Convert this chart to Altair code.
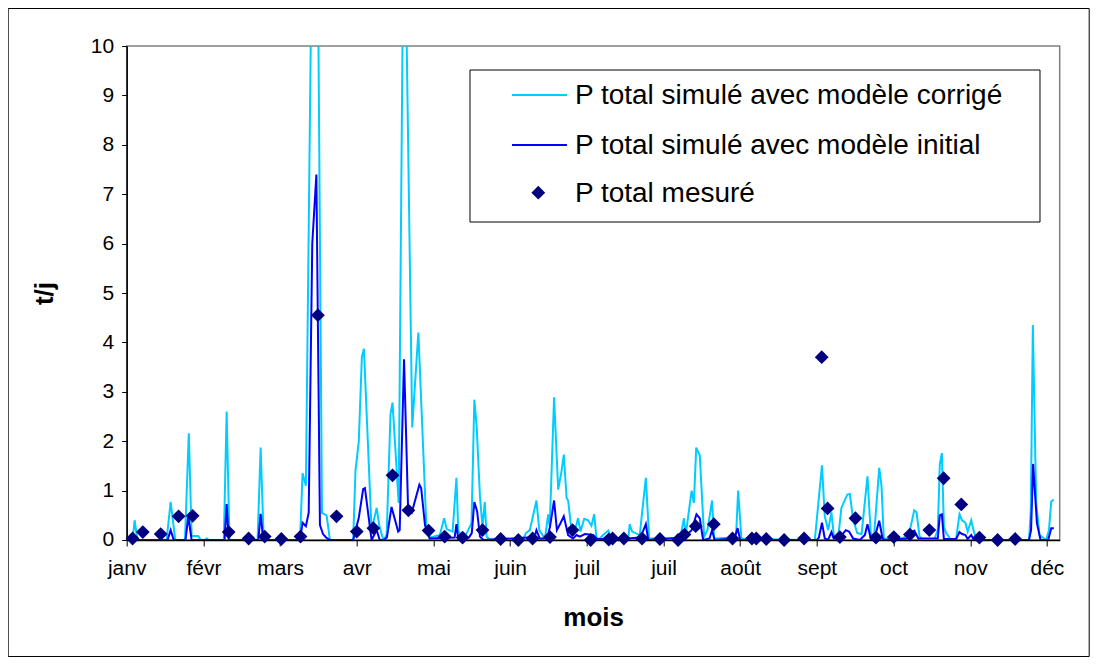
import altair as alt
import pandas as pd

# ---------------- data ----------------
months = ["janv", "févr", "mars", "avr", "mai", "juin", "juil", "juil",
          "août", "sept", "oct", "nov", "déc"]
tick_days = [0, 30, 60, 90, 120, 150, 180, 210, 240, 270, 300, 330, 360]
y_ticks = [0, 1, 2, 3, 4, 5, 6, 7, 8, 9, 10]

legend_labels = ["P total simulé avec modèle corrigé",
                 "P total simulé avec modèle initial",
                 "P total mesuré"]

# P total simulé avec modèle corrigé (polyline vertices: day, t/j)
corr_days = [0, 2.3, 3.1, 4.2, 15.6, 17.2, 19.0, 22.8, 24.3, 25.4, 28.0, 29.0, 30.5, 31.3, 32.3,
             38.0, 39.1, 40.2, 51.2, 52.4, 53.6, 67.8, 68.8, 70.1, 73.8, 76.4, 78.2, 79.5,
             88.6, 89.5, 90.8, 92.0, 92.8, 95.8, 97.8, 98.8, 100.4, 101.7, 103.2, 104.0, 106.4,
             108.5, 111.7, 114.1, 117.3, 118.8, 122.5, 124.2, 125.2, 127.5, 129.0, 129.7, 130.6,
             132.3, 133.6, 134.9, 136.0, 136.9, 138.2, 139.2, 140.1, 140.8, 142.0, 155.1, 156.2,
             157.7, 160.3, 161.4, 163.6, 164.9, 165.5, 167.2, 168.8, 170.1, 171.0, 172.1, 172.7,
             174.0, 175.0, 176.6, 177.5, 179.0, 180.5, 181.8, 182.9, 183.8, 185.1, 186.4, 188.4,
             189.7, 196.2, 196.8, 197.7, 200.7, 203.1, 204.4, 216.5, 218.0, 218.7, 221.0, 221.9,
             222.8, 224.2, 225.9, 227.2, 229.0, 229.8, 237.9, 238.5, 239.2, 240.5, 264.0, 264.6,
             265.5, 269.2, 272.0, 273.1, 274.4, 275.7, 276.6, 278.3, 279.6, 281.9, 282.9, 284.2,
             285.8, 287.5, 289.8, 291.1, 292.4, 294.4, 295.3, 296.2, 303.8, 305.1, 306.4, 308.1,
             309.0, 310.2, 312.0, 316.0, 317.3, 318.1, 318.9, 319.7, 320.6, 322.5, 324.5, 325.8,
             326.8, 328.1, 329.0, 330.4, 331.4, 332.7, 353.0, 353.7, 354.5, 355.8, 357.1, 359.7,
             360.8, 361.7, 362.7]
corr_vals = [0, 0, 0.4, 0, 0, 0.77, 0, 0, 2.16, 0.08, 0.08, 0, 0, 0.03, 0,
             0, 2.6, 0, 0, 1.87, 0, 0, 1.35, 1.1, 18.5, 0.55, 0.5, 0,
             0, 1.4, 2.0, 3.7, 3.87, 0.2, 0.65, 0.3, 0, 0.1, 2.55, 2.78, 0.75,
             13.8, 2.28, 4.2, 0.2, 0.05, 0.1, 0.44, 0.22, 0.17, 1.26, 0.2, 0.1,
             0.07, 0.2, 0.34, 2.84, 2.31, 0.88, 0.27, 0.77, 0.07, 0.01, 0.02, 0.14,
             0.2, 0.8, 0.2, 0.03, 0.52, 0.27, 2.89, 1.02, 1.39, 1.73, 0.85, 0.8,
             0.2, 0.14, 0.44, 0.17, 0.43, 0.4, 0.29, 0.52, 0.03, 0.03, 0.1, 0.19,
             0.03, 0.03, 0.32, 0.17, 0.1, 1.26, 0.03, 0.03, 0.44, 0.1, 1.0, 0.75,
             1.87, 1.71, 0.07, 0.2, 0.8, 0.03, 0.05, 0.2, 1.0, 0.03, 0, 0.08,
             0, 0, 1.51, 0.48, 0.2, 0.56, 0.1, 0.03, 0.65, 0.92, 0.93, 0.41,
             0.14, 0.12, 1.29, 0.12, 0.1, 1.46, 1.09, 0.03, 0.03, 0.12, 0.2, 0.6,
             0.56, 0.07, 0, 0.02, 0.2, 1.53, 1.76, 0.27, 0.14, 0, 0.03, 0.52,
             0.4, 0.35, 0.17, 0.4, 0.17, 0, 0, 0.6, 4.35, 0.75, 0.1, 0,
             0.2, 0.78, 0.82]

# P total simulé avec modèle initial
init_days = [0, 16.0, 17.2, 18.4, 23.0, 24.1, 25.4, 38.3, 39.1, 39.9, 51.5, 52.4, 53.4,
             67.8, 68.8, 70.1, 71.2, 72.6, 74.2, 75.6, 76.8, 78.0, 79.5, 88.6, 90.8, 92.5,
             93.2, 95.8, 97.8, 99.0, 100.4, 101.8, 103.6, 106.2, 106.8, 108.5, 110.1, 111.5,
             114.5, 115.2, 116.7, 118.5, 128.3, 129.0, 129.7, 133.9, 135.0, 136.0, 137.1,
             138.2, 139.5, 157.0, 159.5, 160.3, 161.6, 164.5, 165.6, 167.2, 168.3, 169.7,
             171.0, 172.7, 174.6, 176.0, 177.3, 179.2, 182.5, 184.0, 186.5, 188.4, 189.5,
             200.5, 201.4, 203.1, 204.0, 217.5, 219.0, 221.0, 222.9, 224.2, 225.5, 228.0,
             229.0, 230.0, 237.8, 239.0, 240.0, 270.0, 270.8, 272.0, 273.1, 274.4, 275.7, 276.6,
             279.0, 281.3, 282.6, 284.2, 286.8, 288.8, 289.8, 291.1, 292.7, 294.4, 295.7,
             296.5, 305.0, 306.4, 308.1, 309.7, 317.3, 318.1, 318.9, 319.7, 324.5, 325.8,
             326.8, 328.1, 329.0, 330.4, 331.4, 353.0, 353.8, 354.6, 356.1, 357.5, 360.5, 361.7,
             362.7]
init_vals = [0, 0, 0.2, 0, 0, 0.48, 0, 0, 0.73, 0, 0, 0.53, 0,
             0, 0.35, 0.28, 0.55, 6.0, 7.4, 0.3, 0.12, 0.05, 0, 0, 0.45, 1.03,
             1.05, 0, 0.2, 0, 0, 0.05, 0.67, 0.17, 0.2, 3.66, 0.6, 0.55,
             1.12, 1.05, 0.3, 0.03, 0.05, 0.32, 0.02, 0.05, 0.14, 0.77, 0.58,
             0.07, 0, 0.05, 0.05, 0.2, 0.03, 0.03, 0.27, 0.8, 0.2, 0.34,
             0.48, 0.1, 0.03, 0.1, 0.07, 0.12, 0.1, 0.02, 0.02, 0.1, 0,
             0.05, 0.1, 0.32, 0, 0.05, 0.1, 0.2, 0.52, 0.44, 0, 0.03,
             0.2, 0, 0.03, 0.24, 0, 0, 0.05, 0.35, 0.03, 0, 0.16, 0.03,
             0.05, 0.2, 0.17, 0.03, 0, 0.1, 0.32, 0.03, 0.07, 0.39, 0.03,
             0, 0.03, 0.14, 0.19, 0.03, 0.03, 0.5, 0.52, 0.02, 0.02, 0.16,
             0.12, 0.1, 0.02, 0.1, 0, 0, 0.2, 1.54, 0.34, 0, 0, 0.24,
             0.24]

# P total mesuré
meas_days = [2.3, 6.3, 13.3, 20.3, 25.8, 39.9, 47.7, 54.0, 60.5, 68.0, 74.8, 82.1, 90.0,
             96.5, 104.0, 110.2, 118.1, 124.4, 131.4, 139.2, 146.3, 153.2, 158.8, 165.6,
             174.4, 181.5, 188.6, 190.1, 194.5, 201.6, 208.6, 215.7, 218.2, 222.6, 229.7,
             237.0, 244.6, 246.3, 250.2, 257.2, 265.0, 271.9, 274.2, 279.0, 285.1, 293.1,
             300.1, 306.4, 314.0, 319.6, 326.5, 333.6, 340.7, 347.6]
meas_vals = [0.03, 0.16, 0.12, 0.48, 0.49, 0.16, 0.03, 0.07, 0.02, 0.07, 4.55, 0.48, 0.17,
             0.24, 1.31, 0.6, 0.19, 0.07, 0.05, 0.2, 0.02, 0.0, 0.03, 0.06,
             0.2, 0.0, 0.01, 0.03, 0.03, 0.03, 0.02, 0.0, 0.11, 0.28, 0.32,
             0.03, 0.03, 0.03, 0.02, 0.0, 0.03, 3.7, 0.64, 0.06, 0.44, 0.05,
             0.06, 0.11, 0.2, 1.25, 0.72, 0.05, 0.0, 0.02]

# ---------------- styling ----------------
FONT = "Liberation Sans"
C_CORR = "#00CCFF"
C_INIT = "#0000FF"
C_MEAS = "#000080"

W, H = 933, 494
label_expr = "[" + ",".join("'%s'" % m for m in months) + "][round(datum.value/30)]"

x_scale = alt.Scale(domain=[0, 365], nice=False, zero=False)
y_scale = alt.Scale(domain=[0, 10], nice=False)

x_axis = alt.Axis(values=tick_days, labelExpr=label_expr, title="mois", grid=False,
                  labelFont=FONT, labelFontSize=21, labelColor="black", labelPadding=12,
                  tickSize=6, tickColor="black", domainColor="black", domainWidth=1.5,
                  titleFont=FONT, titleFontSize=26, titleFontWeight="bold", titleColor="black",
                  titleY=78, titleBaseline="middle", labelFlush=False, labelOverlap=False)
y_axis = alt.Axis(values=y_ticks, title="t/j", grid=False,
                  labelFont=FONT, labelFontSize=21, labelColor="black", labelPadding=8,
                  tickSize=5, tickColor="black", domainColor="black", domainWidth=1.5,
                  titleFont=FONT, titleFontSize=26, titleFontWeight="bold", titleColor="black",
                  titleAngle=-90, titleX=-82, titleY=H / 2, titleAlign="center",
                  titleBaseline="middle")

corr_df = pd.DataFrame({"day": corr_days, "val": corr_vals})
init_df = pd.DataFrame({"day": init_days, "val": init_vals})
meas_df = pd.DataFrame({"day": meas_days, "val": meas_vals})

corr_line = alt.Chart(corr_df).mark_line(color=C_CORR, strokeWidth=2, clip=True).encode(
    x=alt.X("day:Q", scale=x_scale, axis=x_axis),
    y=alt.Y("val:Q", scale=y_scale, axis=y_axis),
)
init_line = alt.Chart(init_df).mark_line(color=C_INIT, strokeWidth=2, clip=True).encode(
    x=alt.X("day:Q", scale=x_scale),
    y=alt.Y("val:Q", scale=y_scale),
)
meas_pts = alt.Chart(meas_df).mark_point(shape="diamond", filled=True, color=C_MEAS,
                                         size=190, opacity=1).encode(
    x=alt.X("day:Q", scale=x_scale),
    y=alt.Y("val:Q", scale=y_scale),
)

one = pd.DataFrame({"k": [0]})

# outer chart frame
frame = alt.Chart(one).mark_rect(fillOpacity=0, stroke="black", strokeWidth=1).encode(
    x=alt.value(-118.5), x2=alt.value(962.5), y=alt.value(-37.5), y2=alt.value(116.5 + H)
)

# legend (box, symbols, labels)
LX0, LX1, LY0, LY1 = 343.3, 913.3, 24, 176
row_y = [49, 99, 146.7]
leg_box = alt.Chart(one).mark_rect(fill="white", stroke="black", strokeWidth=1).encode(
    x=alt.value(LX0), x2=alt.value(LX1), y=alt.value(LY0), y2=alt.value(LY1)
)
leg_layers = [leg_box]
for i, col in enumerate([C_CORR, C_INIT]):
    leg_layers.append(alt.Chart(one).mark_rule(color=col, strokeWidth=2).encode(
        x=alt.value(385.3), x2=alt.value(440.3), y=alt.value(row_y[i])))
leg_layers.append(alt.Chart(one).mark_point(shape="diamond", filled=True, color=C_MEAS,
                                            size=190, opacity=1).encode(
    x=alt.value(411.6), y=alt.value(row_y[2])))
for i, lab in enumerate(legend_labels):
    leg_layers.append(alt.Chart(one).mark_text(text=lab, font=FONT, fontSize=28, color="black",
                                               align="left", baseline="middle").encode(
        x=alt.value(448.3), y=alt.value(row_y[i] + 1)))

chart = alt.layer(frame, corr_line, init_line, meas_pts, *leg_layers).properties(
    width=W, height=H,
    autosize=alt.AutoSizeParams(type="none"),
    padding={"left": 118.7, "top": 38, "right": 30, "bottom": 118},
    background="white",
).configure_view(stroke="#808080", strokeWidth=1.5)

chart.save("out.html", embed_options={"renderer": "svg", "actions": False})
